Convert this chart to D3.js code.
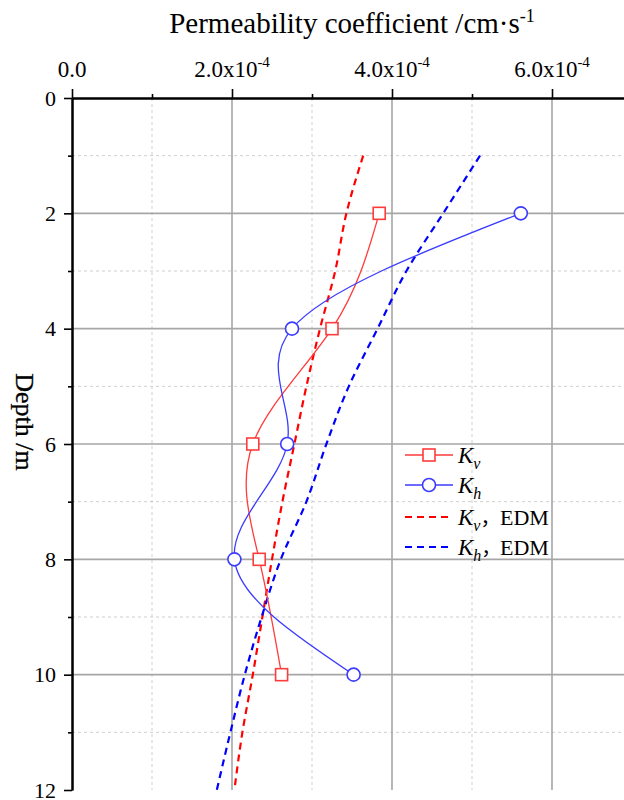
<!DOCTYPE html>
<html>
<head>
<meta charset="utf-8">
<script src="https://cdn.jsdelivr.net/npm/d3@7"></script>
<style>
  html, body { margin: 0; padding: 0; background: #fff; }
  svg { display: block; }
  text { font-family: "Liberation Serif", "Times New Roman", serif; fill: #000; }
</style>
</head>
<body>
<svg id="chart" width="624" height="800"></svg>
<script>
// ---- data ----
const depths = [2, 4, 6, 8, 10];
const kv = [3.84e-4, 3.25e-4, 2.26e-4, 2.34e-4, 2.62e-4];
const kh = [5.61e-4, 2.75e-4, 2.69e-4, 2.03e-4, 3.52e-4];

const edmDepths = [1, 2, 3, 4, 5, 6, 7, 8, 9, 10, 11, 12];
const kvEdm = [3.64e-4, 3.43e-4, 3.29e-4, 3.10e-4, 2.93e-4, 2.78e-4, 2.63e-4, 2.50e-4, 2.38e-4, 2.26e-4, 2.13e-4, 2.03e-4];
const khEdm = [5.10e-4, 4.64e-4, 4.18e-4, 3.82e-4, 3.46e-4, 3.18e-4, 2.93e-4, 2.61e-4, 2.37e-4, 2.16e-4, 1.98e-4, 1.81e-4];

const xMajor = [0, 2e-4, 4e-4, 6e-4];
const xMajorLabels = ["0.0", "2.0x10", "4.0x10", "6.0x10"];
const xMinor = [1e-4, 3e-4, 5e-4];
const yMajor = [0, 2, 4, 6, 8, 10, 12];
const yMinor = [1, 3, 5, 7, 9, 11];

const titleText = "Permeability coefficient /cm·s";
const yTitle = "Depth /m";

// ---- layout ----
const svg = d3.select("#chart");
const x = d3.scaleLinear().domain([0, 7e-4]).range([72, 632]);
const y = d3.scaleLinear().domain([0, 12]).range([98, 790]);

// grid
const g = svg.append("g");
g.selectAll(".gxmin").data(xMinor).enter().append("line")
  .attr("x1", d => x(d)).attr("x2", d => x(d)).attr("y1", y(0)).attr("y2", y(12))
  .attr("stroke", "#cfcfcf").attr("stroke-width", 1).attr("stroke-dasharray", "3,3");
g.selectAll(".gymin").data(yMinor).enter().append("line")
  .attr("x1", x(0)).attr("x2", 624).attr("y1", d => y(d)).attr("y2", d => y(d))
  .attr("stroke", "#cfcfcf").attr("stroke-width", 1).attr("stroke-dasharray", "3,3");
g.selectAll(".gxmaj").data(xMajor.slice(1)).enter().append("line")
  .attr("x1", d => x(d)).attr("x2", d => x(d)).attr("y1", y(0)).attr("y2", y(12))
  .attr("stroke", "#a6a6a6").attr("stroke-width", 1.6);
g.selectAll(".gymaj").data(yMajor.slice(1, -1)).enter().append("line")
  .attr("x1", x(0)).attr("x2", 624).attr("y1", d => y(d)).attr("y2", d => y(d))
  .attr("stroke", "#a6a6a6").attr("stroke-width", 1.6);

// axes
const topAxis = d3.axisTop(x).tickValues(xMajor).tickSize(9).tickSizeOuter(0).tickFormat("");
const topMinor = d3.axisTop(x).tickValues(xMinor).tickSize(4).tickSizeOuter(0).tickFormat("");
const leftAxis = d3.axisLeft(y).tickValues(yMajor).tickSize(8).tickSizeOuter(0).tickPadding(8).tickFormat(d3.format("d"));
const leftMinor = d3.axisLeft(y).tickValues(yMinor).tickSize(4).tickSizeOuter(0).tickFormat("");

function styleAxis(sel) {
  sel.attr("font-family", null);
  sel.select(".domain").attr("stroke", "#000").attr("stroke-width", 2);
  sel.selectAll(".tick line").attr("stroke", "#000").attr("stroke-width", 1.6);
  sel.selectAll(".tick text").attr("font-family", "Liberation Serif, serif").attr("font-size", 22).attr("fill", "#000");
}
svg.append("g").attr("transform", `translate(0,${y(0)})`).call(topMinor).call(styleAxis);
svg.append("g").attr("transform", `translate(0,${y(0)})`).call(topAxis).call(styleAxis);
svg.append("g").attr("transform", `translate(${x(0)},0)`).call(leftMinor).call(styleAxis);
svg.append("g").attr("transform", `translate(${x(0)},0)`).call(leftAxis).call(styleAxis);

// top tick labels
const tl = svg.append("g");
xMajor.forEach((v, i) => {
  const t = tl.append("text").attr("x", x(v)).attr("y", 77).attr("text-anchor", "middle").attr("font-size", 23);
  t.append("tspan").text(xMajorLabels[i]);
  if (i > 0) t.append("tspan").attr("dy", -10).attr("font-size", 15).text("-4");
});

// title
const tt = svg.append("text").attr("x", 352).attr("y", 33).attr("text-anchor", "middle").attr("font-size", 29);
tt.append("tspan").text(titleText);
tt.append("tspan").attr("dy", -11).attr("font-size", 18).text("-1");

svg.append("text").attr("transform", "translate(16,422) rotate(90)")
  .attr("text-anchor", "middle").attr("font-size", 26).attr("stroke", "#000").attr("stroke-width", 0.3).text(yTitle);

// clip
svg.append("clipPath").attr("id", "clip").append("rect").attr("x", 72).attr("y", 98).attr("width", 560).attr("height", 702);
const plot = svg.append("g").attr("clip-path", "url(#clip)");

// EDM lines
const edmLine = d3.line().x(d => x(d[0])).y(d => y(d[1])).curve(d3.curveMonotoneY);
plot.append("path").datum(edmDepths.map((d, i) => [kvEdm[i], d]))
  .attr("d", edmLine).attr("fill", "none").attr("stroke", "#ff0000").attr("stroke-width", 2.2).attr("stroke-dasharray", "7,5");
plot.append("path").datum(edmDepths.map((d, i) => [khEdm[i], d]))
  .attr("d", edmLine).attr("fill", "none").attr("stroke", "#0000ff").attr("stroke-width", 2.2).attr("stroke-dasharray", "7,5");

// spline lines
const spl = d3.line().x(d => x(d[0])).y(d => y(d[1])).curve(d3.curveNatural);
const redC = "#ff3b3b", blueC = "#3b3bff";
plot.append("path").datum(depths.map((d, i) => [kv[i], d]))
  .attr("d", spl).attr("fill", "none").attr("stroke", redC).attr("stroke-width", 1.3);
plot.append("path").datum(depths.map((d, i) => [kh[i], d]))
  .attr("d", spl).attr("fill", "none").attr("stroke", blueC).attr("stroke-width", 1.3);

// markers
plot.selectAll(".sq").data(depths.map((d, i) => [kv[i], d])).enter().append("rect")
  .attr("x", d => x(d[0]) - 6).attr("y", d => y(d[1]) - 6).attr("width", 12).attr("height", 12)
  .attr("fill", "#fff").attr("stroke", redC).attr("stroke-width", 1.6);
plot.selectAll(".ci").data(depths.map((d, i) => [kh[i], d])).enter().append("circle")
  .attr("cx", d => x(d[0])).attr("cy", d => y(d[1])).attr("r", 6.5)
  .attr("fill", "#fff").attr("stroke", blueC).attr("stroke-width", 1.6);

// legend
const lg = svg.append("g");
const rows = [
  {y: 455, color: redC, dash: null, w: 1.3, marker: "sq", sub: "v", edm: false},
  {y: 485, color: blueC, dash: null, w: 1.3, marker: "ci", sub: "h", edm: false},
  {y: 517, color: "#ff0000", dash: "7,5", w: 2.2, marker: null, sub: "v", edm: true},
  {y: 547, color: "#0000ff", dash: "7,5", w: 2.2, marker: null, sub: "h", edm: true}
];
rows.forEach(r => {
  lg.append("line").attr("x1", 405).attr("x2", 453).attr("y1", r.y).attr("y2", r.y)
    .attr("stroke", r.color).attr("stroke-width", r.w).attr("stroke-dasharray", r.dash);
  if (r.marker === "sq") lg.append("rect").attr("x", 423).attr("y", r.y - 6).attr("width", 12).attr("height", 12)
    .attr("fill", "#fff").attr("stroke", r.color).attr("stroke-width", 1.6);
  if (r.marker === "ci") lg.append("circle").attr("cx", 429).attr("cy", r.y).attr("r", 6.5)
    .attr("fill", "#fff").attr("stroke", r.color).attr("stroke-width", 1.6);
  const t = lg.append("text").attr("x", 458).attr("y", r.y + 8).attr("font-size", 23);
  t.append("tspan").attr("font-style", "italic").text("K");
  t.append("tspan").attr("font-style", "italic").attr("font-size", 16).attr("dy", 6).text(r.sub);
  if (r.edm) {
    t.append("tspan").attr("dy", -6).attr("font-size", 20).attr("font-family", "Noto Sans CJK SC").text("，");
    t.append("tspan").attr("x", 500).attr("font-size", 22).text("EDM");
  }
});
</script>
</body>
</html>
